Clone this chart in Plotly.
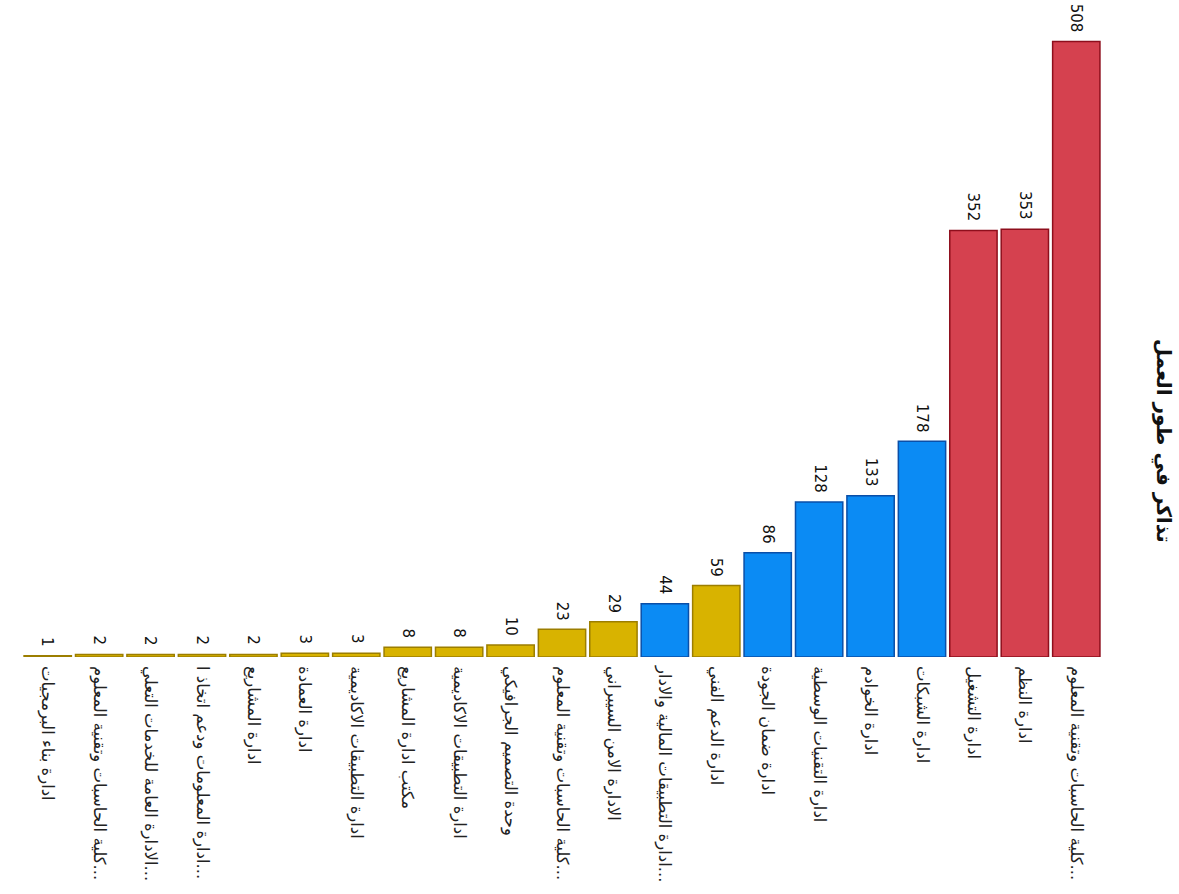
import plotly.graph_objects as go

# Tickets in progress per department, sorted ascending
departments = [
    "ادارة بناء البرمجيات",
    "كلية الحاسبات وتقنية المعلوم...",
    "الادارة العامة للخدمات التعلي...",
    "ادارة المعلومات ودعم اتخاذ ا...",
    "ادارة المشاريع",
    "ادارة العمادة",
    "ادارة التطبيقات الاكاديمية",
    "مكتب ادارة المشاريع",
    "ادارة التطبيقات الاكاديمية",
    "وحدة التصميم الجرافيكي",
    "كلية الحاسبات وتقنية المعلوم...",
    "الادارة الامن السيبراني",
    "ادارة التطبيقات المالية والادار...",
    "ادارة الدعم الفني",
    "ادارة ضمان الجودة",
    "ادارة التقنيات الوسطية",
    "ادارة الخوادم",
    "ادارة الشبكات",
    "ادارة التشغيل",
    "ادارة النظم",
    "كلية الحاسبات وتقنية المعلوم...",
]
tickets = [1, 2, 2, 2, 2, 3, 3, 8, 8, 10, 23, 29, 44, 59, 86, 128, 133, 178, 352, 353, 508]
groups = ["gold"] * 12 + ["blue", "gold"] + ["blue"] * 4 + ["red"] * 3

fill = {"gold": "#D8B300", "blue": "#0B8BF4", "red": "#D5414F"}
edge = {"gold": "#9C7E00", "blue": "#0A4FA8", "red": "#8E0E1C"}

positions = list(range(len(departments)))

fig = go.Figure(
    go.Bar(
        x=positions,
        y=tickets,
        marker=dict(
            color=[fill[g] for g in groups],
            line=dict(color=[edge[g] for g in groups], width=1.5),
        ),
        hoverinfo="x+y",
    )
)

# Value labels above each bar, rotated like the category labels
for pos, val in zip(positions, tickets):
    fig.add_annotation(
        x=pos,
        y=val,
        text=str(val),
        textangle=90,
        showarrow=False,
        xanchor="center",
        yanchor="bottom",
        yshift=7,
        font=dict(family="DejaVu Sans", size=15, color="#111111"),
    )

fig.update_layout(
    width=1179,
    height=894,
    margin=dict(l=22, r=77, t=10, b=237),
    paper_bgcolor="white",
    plot_bgcolor="white",
    bargap=0.08,
    showlegend=False,
    font=dict(family="DejaVu Sans", size=13, color="#222222"),
)

fig.update_xaxes(
    tickvals=positions,
    ticktext=departments,
    tickangle=90,
    ticklabelstandoff=8,
    showgrid=False,
    zeroline=False,
    showline=False,
    ticks="",
    range=[-0.5, len(departments) - 0.5],
    tickfont=dict(family="DejaVu Sans", size=16.5, color="#222222"),
)
fig.update_yaxes(
    range=[0, 534],
    visible=False,
    showgrid=False,
    zeroline=False,
)

fig.add_annotation(
    text="<b>تذاكر في طور العمل</b>",
    xref="paper",
    yref="paper",
    x=1.057,
    y=0.335,
    xanchor="center",
    yanchor="middle",
    textangle=90,
    showarrow=False,
    font=dict(family="DejaVu Sans", size=20, color="#111111"),
)

fig.write_html("out.html")
